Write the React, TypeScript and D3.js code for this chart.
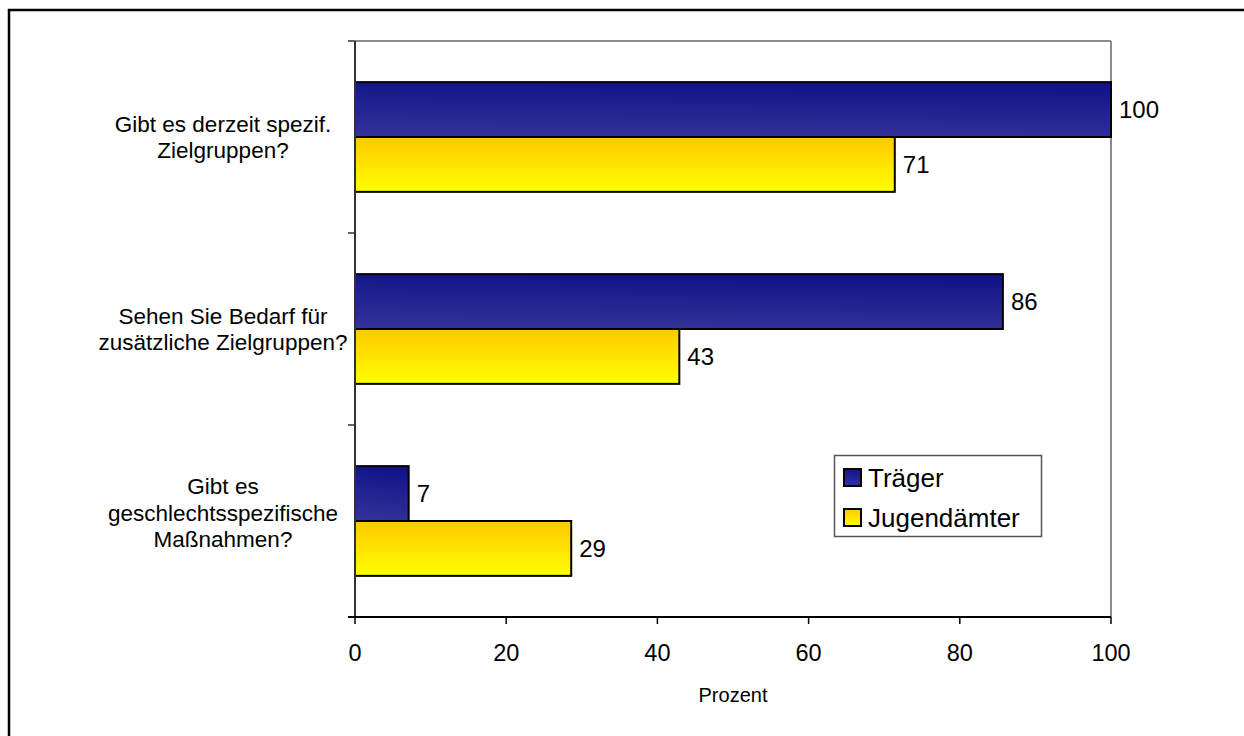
import React from "react";
import * as d3 from "d3";

const categories: string[][] = [
  ["Gibt es derzeit spezif.", "Zielgruppen?"],
  ["Sehen Sie Bedarf für", "zusätzliche Zielgruppen?"],
  ["Gibt es", "geschlechtsspezifische", "Maßnahmen?"],
];
const seriesNames = ["Träger", "Jugendämter"];
const traeger = [100, 85.7, 7.1];
const jugendaemter = [71.4, 42.9, 28.6];
const xTicks = [0, 20, 40, 60, 80, 100];
const xTitle = "Prozent";

const W = 1244;
const H = 736;
const left = 355;
const right = 1111;
const top = 41;
const bottom = 617;
const font = "Arial, 'Liberation Sans', Helvetica, sans-serif";

export default function App() {
  const x = d3.scaleLinear().domain([0, 100]).range([left, right]);
  const y = d3
    .scaleBand<number>()
    .domain(d3.range(categories.length))
    .range([top, bottom])
    .paddingInner(0)
    .paddingOuter(0);
  const inner = d3
    .scaleBand<number>()
    .domain([0, 1])
    .range([0, y.bandwidth()])
    .paddingInner(0)
    .paddingOuter(0.75);
  const series = [traeger, jugendaemter];
  const fills = ["url(#gBlue)", "url(#gYellow)"];
  const yTickPos = d3.range(categories.length + 1).map((i) => top + i * y.step());

  return (
    <svg
      width={W}
      height={H}
      style={{ position: "absolute", left: 0, top: 0, background: "#fff" }}
      fontFamily={font}
    >
      <defs>
        <linearGradient id="gBlue" x1="0" y1="1" x2="0.15" y2="0">
          <stop offset="0" stopColor="#343499" />
          <stop offset="1" stopColor="#14148a" />
        </linearGradient>
        <linearGradient id="gYellow" x1="0" y1="0" x2="0" y2="1">
          <stop offset="0" stopColor="#ffc800" />
          <stop offset="1" stopColor="#ffff00" />
        </linearGradient>
      </defs>
      <rect x={0} y={0} width={W} height={H} fill="#fff" />
      <rect x={9} y={10} width={1400} height={900} fill="none" stroke="#000" strokeWidth={2.5} />

      {/* plot border top/right */}
      <line x1={left} x2={right} y1={top} y2={top} stroke="#8c8c8c" strokeWidth={2} />
      <line x1={right} x2={right} y1={top} y2={bottom} stroke="#8c8c8c" strokeWidth={2} />

      {/* bars */}
      {categories.map((_, ci) =>
        series.map((vals, si) => (
          <rect
            key={`${ci}-${si}`}
            x={x(0)}
            y={(y(ci) as number) + (inner(si) as number)}
            width={x(vals[ci]) - x(0)}
            height={inner.bandwidth()}
            fill={fills[si]}
            stroke="#000"
            strokeWidth={2}
          />
        ))
      )}

      {/* value labels */}
      {categories.map((_, ci) =>
        series.map((vals, si) => (
          <text
            key={`l-${ci}-${si}`}
            x={x(vals[ci]) + 8}
            y={(y(ci) as number) + (inner(si) as number) + inner.bandwidth() / 2}
            dy="0.35em"
            fontSize={24}
            fill="#000"
          >
            {Math.round(vals[ci])}
          </text>
        ))
      )}

      {/* axes */}
      <line x1={left} x2={left} y1={top} y2={bottom} stroke="#333" strokeWidth={2} />
      {yTickPos.map((p, i) => (
        <line key={`yt${i}`} x1={left - 7} x2={left} y1={p} y2={p} stroke="#333" strokeWidth={1.5} />
      ))}
      <line x1={left - 7} x2={right} y1={bottom} y2={bottom} stroke="#000" strokeWidth={2} />
      {xTicks.map((t) => (
        <g key={`xt${t}`}>
          <line x1={x(t)} x2={x(t)} y1={bottom} y2={bottom + 7} stroke="#000" strokeWidth={1.5} />
          <text x={x(t)} y={653} dy="0.35em" textAnchor="middle" fontSize={23.5} fill="#000">
            {t}
          </text>
        </g>
      ))}
      <text x={(left + right) / 2} y={695} dy="0.35em" textAnchor="middle" fontSize={20} fill="#000">
        {xTitle}
      </text>

      {/* category labels */}
      {categories.map((lines, ci) => {
        const cy = (y(ci) as number) + y.bandwidth() / 2 - (lines.length > 2 ? 8 : 0);
        const lh = 26.5;
        const start = cy - ((lines.length - 1) * lh) / 2;
        return (
          <text key={`c${ci}`} textAnchor="middle" fontSize={22.5} fill="#000">
            {lines.map((ln, li) => (
              <tspan key={li} x={223} y={start + li * lh} dy="0.35em">
                {ln}
              </tspan>
            ))}
          </text>
        );
      })}

      {/* legend */}
      <rect x={834.5} y={455.5} width={207} height={81} fill="#fff" stroke="#555" strokeWidth={1.5} />
      {seriesNames.map((n, i) => (
        <g key={n}>
          <rect x={844} y={469 + i * 40} width={17} height={17} fill={fills[i]} stroke="#000" strokeWidth={2} />
          <text x={868} y={487 + i * 40} fontSize={26} fill="#000">
            {n}
          </text>
        </g>
      ))}
    </svg>
  );
}
